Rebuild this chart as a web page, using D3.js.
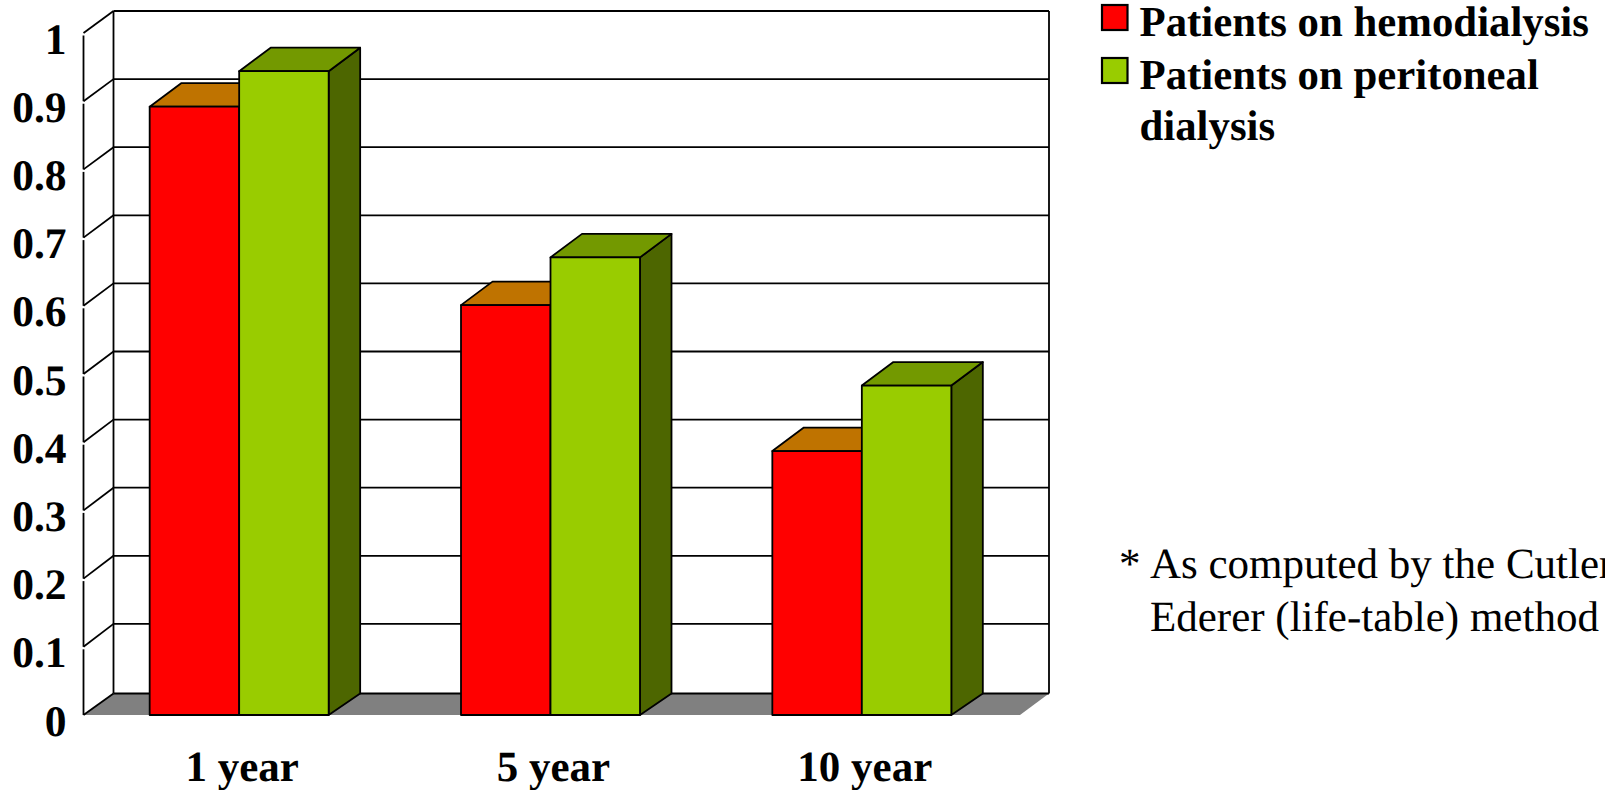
<!DOCTYPE html>
<html>
<head>
<meta charset="utf-8">
<script src="https://cdn.jsdelivr.net/npm/d3@7"></script>
<style>
html, body { margin: 0; padding: 0; background: #fff; overflow: hidden; }
text { font-family: "Liberation Serif", serif; fill: #000; text-rendering: geometricPrecision; }
.bold { font-weight: bold; }
</style>
</head>
<body>
<script>
// Survival proportions by dialysis modality
const categories = ["1 year", "5 year", "10 year"];
const hemodialysis = [0.892, 0.601, 0.387];
const peritoneal = [0.944, 0.671, 0.483];
const tickValues = d3.range(0, 11).map(d => d / 10);
const legendLines = [["Patients on hemodialysis"], ["Patients on peritoneal", "dialysis"]];
const footnote = ["As computed by the Cutler-", "Ederer (life-table) method"];

const colors = {
  red: { front: "#ff0000", top: "#bf7300" },
  green: { front: "#99cc00", top: "#739900", side: "#4d6600" }
};

const W = 1605, H = 790;
const svg = d3.select("body").append("svg").attr("width", W).attr("height", H)
  .style("display", "block");

// Oblique projection: front plane plus a depth offset towards the back wall
const frontLeft = 83.5, frontRight = 1020, depthX = 30;
const barDepthX = 31.5, barDepthY = 23.5;
const strokeW = 1.8;
const y = d3.scaleLinear().domain([0, 1]).range([715, 33]);
const yBack = d3.scaleLinear().domain([0, 1]).range([692, 11]);
const floorBack = 693.5;
const groups = d3.scaleBand().domain(categories).range([frontLeft, frontLeft + 934]);
const barWidth = 89.5;
const barLeft = c => groups(c) + (groups.bandwidth() - 2 * barWidth) / 2;

const poly = (pts, fill, stroke) => svg.append("polygon")
  .attr("points", pts.map(p => p.join(",")).join(" "))
  .attr("fill", fill)
  .attr("stroke", stroke || "none")
  .attr("stroke-width", strokeW)
  .attr("stroke-linejoin", "round");

const line = (x1, y1, x2, y2) => svg.append("line")
  .attr("x1", x1).attr("y1", y1).attr("x2", x2).attr("y2", y2)
  .attr("stroke", "#000").attr("stroke-width", strokeW);

// Floor
poly([[frontLeft, y(0)], [frontLeft + depthX, floorBack],
      [frontRight + depthX - 1, floorBack], [frontRight, y(0)]], "#808080");

// Back wall frame, gridlines and side-wall diagonals
const backRow = t => (t === 0 ? floorBack : yBack(t));
tickValues.forEach(t => {
  line(frontLeft + depthX, backRow(t), frontRight + depthX - 1, backRow(t));
  line(frontLeft, y(t), frontLeft + depthX, backRow(t));
});
line(frontLeft + depthX, yBack(1), frontLeft + depthX, floorBack);
line(frontRight + depthX - 1, yBack(1), frontRight + depthX - 1, floorBack);

// Front edge of the side wall, broken slightly below each tick
tickValues.slice(1).forEach(t => {
  line(frontLeft, y(t) + 2.5, frontLeft, y(t - 0.1));
});

// Tick labels
svg.append("g").selectAll("text").data(tickValues).join("text")
  .attr("class", "bold")
  .attr("x", 66.5)
  .attr("y", d => y(d) + 20.5)
  .attr("text-anchor", "end")
  .attr("font-size", 43.5)
  .text(d => d3.format("~g")(d));

// Draws one 3-D column: front face, top face and optional side face
function column(x, value, c) {
  const t = y(value), b = y(0);
  if (c.side) {
    poly([[x + barWidth, t], [x + barWidth + barDepthX, t - barDepthY],
          [x + barWidth + barDepthX, floorBack], [x + barWidth, b]], c.side, "#000");
  }
  poly([[x, t], [x + barDepthX, t - barDepthY],
        [x + barWidth + barDepthX, t - barDepthY], [x + barWidth, t]], c.top, "#000");
  poly([[x, t], [x + barWidth, t], [x + barWidth, b], [x, b]], c.front, "#000");
}

categories.forEach((c, i) => {
  const x = barLeft(c);
  column(x, hemodialysis[i], colors.red);
  column(x + barWidth, peritoneal[i], colors.green);
  svg.append("text").attr("class", "bold")
    .attr("x", x + barWidth + 3)
    .attr("y", 781)
    .attr("text-anchor", "middle")
    .attr("font-size", 43)
    .text(c);
});

// Legend
const swatches = [colors.red.front, colors.green.front];
const legendY = d3.scaleOrdinal().domain([0, 1]).range([5, 58]);
swatches.forEach((fill, i) => {
  svg.append("rect")
    .attr("x", 1102).attr("y", legendY(i))
    .attr("width", 25.5).attr("height", 25)
    .attr("fill", fill).attr("stroke", "#000").attr("stroke-width", 2.2);
});
const legendBaselines = [[36], [88.5], [139.5]];
legendLines.flat().forEach((t, i) => {
  svg.append("text").attr("class", "bold")
    .attr("x", 1139.5).attr("y", legendBaselines[i][0])
    .attr("font-size", 42.8).text(t);
});

// Footnote
svg.append("text").attr("x", 1119).attr("y", 578).attr("font-size", 43).text("*");
footnote.forEach((t, i) => {
  svg.append("text").attr("x", 1150).attr("y", 578 + i * 52.5)
    .attr("font-size", 43).text(t);
});
</script>
</body>
</html>
